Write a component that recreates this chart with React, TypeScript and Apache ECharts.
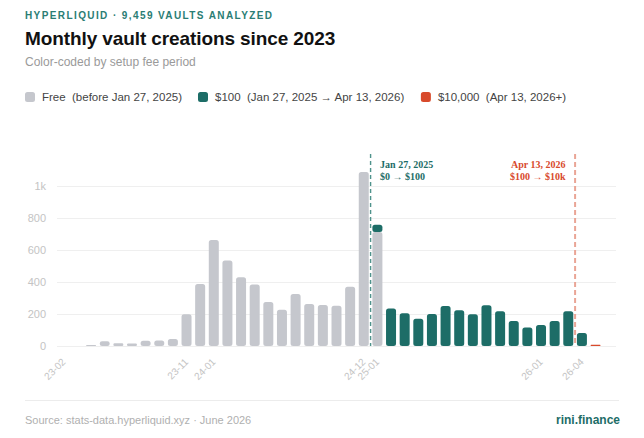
import { useEffect, useRef } from 'react'
import * as echarts from 'echarts'

// months on the x axis, 2023-02 .. 2026-06
const months = [
  '23-02', '23-03', '23-04', '23-05', '23-06', '23-07', '23-08', '23-09', '23-10', '23-11', '23-12',
  '24-01', '24-02', '24-03', '24-04', '24-05', '24-06', '24-07', '24-08', '24-09', '24-10', '24-11', '24-12',
  '25-01', '25-02', '25-03', '25-04', '25-05', '25-06', '25-07', '25-08', '25-09', '25-10', '25-11', '25-12',
  '26-01', '26-02', '26-03', '26-04', '26-05', '26-06',
]

const shownLabels = ['23-02', '23-11', '24-01', '24-12', '25-01', '26-01', '26-04']

// vault creations per month, by setup fee period (each list starts at its first month)
const freeStart = '23-02'
const freeVaults = [
  0, 0, 6, 29, 17, 15, 33, 35, 44, 198, 387,
  662, 535, 429, 385, 275, 227, 325, 262, 256, 252, 371, 1087,
  712,
]

const fee100Start = '25-01'
const fee100Vaults = [46, 235, 204, 171, 200, 250, 223, 198, 254, 217, 156, 115, 131, 156, 217, 81]

const fee10kStart = '26-05'
const fee10kVaults = [8]

const yTicks = [0, 200, 400, 600, 800, 1000]
const Y_MAX = 1200

const feeChanges = [
  { month: '25-01', date: 'Jan 27, 2025', change: '$0 → $100', side: 'right' },
  { month: '26-04', date: 'Apr 13, 2026', change: '$100 → $10k', side: 'left' },
]

const GREY = '#c5c7cd'
const TEAL = '#1d6d67'
const RED = '#d84a2c'
const SANS = '"Liberation Sans", Arial, Helvetica, sans-serif'
const SERIF = '"Liberation Serif", "Times New Roman", serif'

const place = (values: number[], start: string) => {
  const offset = months.indexOf(start)
  return months.map((_, i) => (i >= offset && i - offset < values.length ? values[i - offset] : null))
}

const barSeries = (name: string, values: number[], start: string, color: string) => ({
  name,
  type: 'bar',
  stack: 'fee',
  barWidth: 10,
  data: place(values, start),
  itemStyle: { color, borderRadius: 2.5 },
})

export default function App() {
  const chartRef = useRef<HTMLDivElement | null>(null)

  useEffect(() => {
    if (!chartRef.current) return
    const chart = echarts.init(chartRef.current, null, { renderer: 'svg' })

    chart.setOption({
      animation: false,
      textStyle: { fontFamily: SANS },
      legend: {
        left: 25,
        top: 91,
        padding: 0,
        itemWidth: 10,
        itemHeight: 10,
        itemGap: 16,
        icon: 'roundRect',
        textStyle: { fontSize: 11.5, color: '#444', padding: [0, 0, 0, 2] },
      },
      grid: { left: 57, right: 28, top: 154, bottom: 92 },
      xAxis: {
        type: 'category',
        data: months,
        axisLine: { show: false },
        axisTick: { show: false },
        axisLabel: {
          interval: (_: number, value: string) => shownLabels.includes(value),
          rotate: 45,
          margin: 14,
          fontSize: 10,
          color: '#c4c4c4',
        },
      },
      yAxis: {
        type: 'value',
        min: yTicks[0],
        max: Y_MAX,
        interval: yTicks[1] - yTicks[0],
        axisLine: { show: false },
        axisTick: { show: false },
        axisLabel: {
          fontSize: 11,
          color: '#c4c4c4',
          margin: 11,
          showMaxLabel: false,
          formatter: (v: number) => (v >= 1000 ? `${v / 1000}k` : `${v}`),
        },
        splitLine: { showMaxLine: false, lineStyle: { color: '#efefef' } },
      },
      series: [
        barSeries('Free  (before Jan 27, 2025)', freeVaults, freeStart, GREY),
        barSeries('$100  (Jan 27, 2025 → Apr 13, 2026)', fee100Vaults, fee100Start, TEAL),
        barSeries('$10,000  (Apr 13, 2026+)', fee10kVaults, fee10kStart, RED),
      ],
    })

    // dashed fee-change markers sit on the boundary before the month of the change
    const xAt = (i: number) => chart.convertToPixel({ xAxisIndex: 0 }, i) as number
    const yTop = chart.convertToPixel({ yAxisIndex: 0 }, Y_MAX) as number
    const yBase = chart.convertToPixel({ yAxisIndex: 0 }, 0) as number

    const graphic: any[] = []
    feeChanges.forEach((f, k) => {
      const i = months.indexOf(f.month)
      const x = (xAt(i - 1) + xAt(i)) / 2
      const color = k === 0 ? TEAL : RED
      graphic.push({
        type: 'line',
        silent: true,
        shape: { x1: x, y1: yTop, x2: x, y2: yBase },
        style: k === 0
          ? { stroke: '#4f938c', lineWidth: 1.4, lineDash: [4, 3] }
          : { stroke: '#eaa596', lineWidth: 2, lineDash: [5, 3] },
      })
      graphic.push({
        type: 'text',
        silent: true,
        x: f.side === 'right' ? x + 9.5 : x - 9.5,
        y: yTop + 4,
        style: {
          text: `${f.date}\n${f.change}`,
          fill: color,
          fontFamily: SERIF,
          fontWeight: 'bold',
          fontSize: 10,
          lineHeight: 12,
          align: f.side === 'right' ? 'left' : 'right',
          verticalAlign: 'top',
        },
      })
    })
    chart.setOption({ graphic })

    return () => chart.dispose()
  }, [])

  return (
    <div style={{ position: 'absolute', left: 0, top: 0, width: 644, height: 438, background: '#fff', fontFamily: SANS }}>
      <div ref={chartRef} style={{ position: 'absolute', left: 0, top: 0, width: 644, height: 438 }} />
      <div style={{ position: 'absolute', left: 25, top: 11.2, fontSize: 10, lineHeight: '10px', fontWeight: 700, letterSpacing: 1.4, color: '#2a7d74', whiteSpace: 'nowrap' }}>
        HYPERLIQUID · 9,459 VAULTS ANALYZED
      </div>
      <div style={{ position: 'absolute', left: 25, top: 29.2, fontSize: 19, lineHeight: '19px', fontWeight: 700, letterSpacing: -0.1, color: '#111', whiteSpace: 'nowrap' }}>
        Monthly vault creations since 2023
      </div>
      <div style={{ position: 'absolute', left: 25, top: 55.5, fontSize: 12, lineHeight: '12px', color: '#9a9a9a', whiteSpace: 'nowrap' }}>
        Color-coded by setup fee period
      </div>
      <div style={{ position: 'absolute', left: 25, top: 400, width: 594, height: 1, background: '#ececec' }} />
      <div style={{ position: 'absolute', left: 25, top: 414.7, fontSize: 11, lineHeight: '11px', color: '#b0b0b0', whiteSpace: 'nowrap' }}>
        Source: stats-data.hyperliquid.xyz · June 2026
      </div>
      <div style={{ position: 'absolute', right: 24, top: 413.8, fontSize: 12, lineHeight: '12px', fontWeight: 700, color: TEAL, whiteSpace: 'nowrap' }}>
        rini.finance
      </div>
    </div>
  )
}
